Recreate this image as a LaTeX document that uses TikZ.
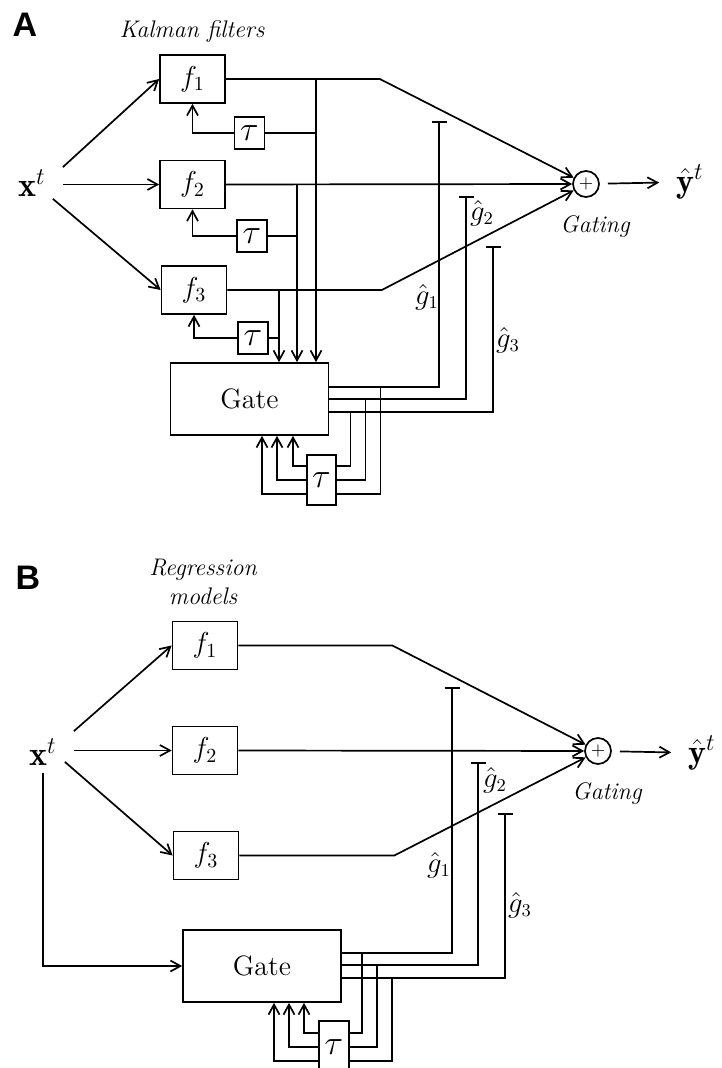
\documentclass[tikz,border=0pt]{standalone}
\usepackage{amsmath,amssymb}
\usepackage{fontspec}
\newfontfamily\panelfont{Liberation Sans}
\usetikzlibrary{calc, positioning, arrows.meta}

\begin{document}
\begin{tikzpicture}[x=0.5pt, y=-0.5pt, line width=0.85pt,
    box/.style={draw, minimum width=32.5pt, minimum height=24pt, inner sep=0pt, font=\fontsize{14}{16}\selectfont},
    delay/.style={draw, minimum width=15pt, minimum height=16pt, inner sep=0pt, font=\fontsize{16}{18}\selectfont},
    gatebox/.style={draw, minimum width=79pt, minimum height=36pt, inner sep=0pt, font=\fontsize{14}{16}\selectfont},
    adder/.style={circle, draw, minimum size=13pt, inner sep=0pt, font=\fontsize{9}{9}\selectfont},
    vec/.style={minimum width=30pt, minimum height=15pt, inner sep=0pt, font=\fontsize{17}{19}\selectfont},
    note/.style={font=\fontsize{12}{14.5}\selectfont\itshape, align=center, inner sep=0pt},
    glab/.style={font=\fontsize{13.5}{15}\selectfont, inner sep=0pt},
    panel/.style={font=\panelfont\bfseries\fontsize{17}{20}\selectfont, inner sep=0pt},
    arr/.style={-{Straight Barb[length=5pt, width=5.5pt]}},
    tee/.style={-{Bar[width=7.5pt]}}]
    \useasboundingbox (0,0) rectangle (721,1068);
    \clip (0,0) rectangle (721,1068);

    % Panel A: Kalman filters, each with its own delay loop
    \node[panel] (labA) at (25,25) {A};
    \node[note] (titA) at (192,32) {Kalman filters};
    \node[vec] (xA) at (32,183) {$\mathbf{x}^t$};
    \foreach \i/\x/\y in {1/192.5/79, 2/192.5/184.5, 3/194/290}
        \node[box] (fA\i) at (\x,\y) {$f_{\i}$};
    \foreach \i/\x/\y in {1/249.5/133, 2/252/236, 3/253/338}
        \node[delay] (dA\i) at (\x,\y) {$\tau$};
    \node[gatebox] (gateA) at (249.5,399) {Gate};
    \node[delay, minimum width=14.5pt, minimum height=25pt] (dgA) at (321.5,480) {$\tau$};
    \node[adder] (sA) at (586,184) {$+$};
    \node[vec] (yA) at (690,182) {$\hat{\mathbf{y}}{}^t$};
    \node[note] (gtA) at (595,227) {Gating};
    \node[glab] (hgA1) at (427,297) {$\hat{g}_1$};
    \node[glab] (hgA2) at (482,213) {$\hat{g}_2$};
    \node[glab] (hgA3) at (508,340) {$\hat{g}_3$};

    \draw[arr] (xA.north east) -- (fA1.west);
    \draw[arr] (xA.east |- fA2.west) -- (fA2.west);
    \draw[arr] ([xshift=-5pt]xA.south east) -- (fA3.west);
    \draw[arr] (fA1.east) -- ++(154,0) -- (sA);
    \draw[arr] (fA2.east) -- (sA);
    \draw[arr] (fA3.east) -- ++(154.5,0) -- (sA);
    \draw[arr, shorten <=4pt] (sA) -- (yA);

    \coordinate (tA1) at (316,79);
    \coordinate (tA2) at (297,184.5);
    \coordinate (tA3) at (279,290);
    \foreach \i in {1,2,3} {
        \draw[arr] (tA\i) -- (tA\i |- gateA.north);
        \draw (dA\i.east) -- (dA\i.east -| tA\i);
        \draw[arr] (dA\i.west) -| (fA\i.south);
    }

    \coordinate (bA1) at (439,121);
    \coordinate (bA2) at (466,196);
    \coordinate (bA3) at (493,246);
    \foreach \i/\dy/\dxr/\dyr/\dxl in {1/-12/51/14/12.5, 2/0/36/0/27.5, 3/13/21/-14/43.5} {
        \coordinate (oA\i) at ($(gateA.east)+(0,\dy)$);
        \draw[tee] (oA\i) -| (bA\i);
        \draw ($(oA\i)+(\dxr,0)$) |- ($(dgA.east)+(0,\dyr)$);
        \draw[arr] ($(dgA.west)+(0,\dyr)$) -| ($(gateA.south)+(\dxl,0)$);
    }

    % Panel B: regression models, gate fed by the input
    \node[panel] (labB) at (28,578) {B};
    \node[note] (titB) at (203,582) {Regression\\models};
    \node[vec, minimum height=20pt] (xB) at (43,752) {$\mathbf{x}^t$};
    \foreach \i/\x/\y in {1/205/645.5, 2/205/750.5, 3/206/855.5}
        \node[box] (fB\i) at (\x,\y) {$f_{\i}$};
    \node[gatebox] (gateB) at (262,966) {Gate};
    \node[delay, minimum width=15pt, minimum height=26pt] (dgB) at (334,1047) {$\tau$};
    \node[adder] (sB) at (598,751) {$+$};
    \node[vec] (yB) at (702,753) {$\hat{\mathbf{y}}{}^t$};
    \node[note] (gtB) at (607,793) {Gating};
    \node[glab] (hgB1) at (439,865) {$\hat{g}_1$};
    \node[glab] (hgB2) at (495,780) {$\hat{g}_2$};
    \node[glab] (hgB3) at (520,905) {$\hat{g}_3$};

    \draw[arr] (xB.north east) -- (fB1.west);
    \draw[arr] (xB.east |- fB2.west) -- (fB2.west);
    \draw[arr] ([xshift=-4.5pt, yshift=5.5pt]xB.south east) -- (fB3.west);
    \draw[arr] (xB.south) |- (gateB.west);
    \draw[arr] (fB1.east) -- ++(154,0) -- (sB);
    \draw[arr] (fB2.east) -- (sB);
    \draw[arr] (fB3.east) -- ++(155,0) -- (sB);
    \draw[arr, shorten <=4pt] (sB) -- (yB);

    \coordinate (bB1) at (452,687);
    \coordinate (bB2) at (478,762);
    \coordinate (bB3) at (505,813);
    \foreach \i/\dy/\dxr/\dyr/\dxl in {1/-13/20/-14/42, 2/-1/35/0/27, 3/12/50/14/12} {
        \coordinate (oB\i) at ($(gateB.east)+(0,\dy)$);
        \draw[tee] (oB\i) -| (bB\i);
        \draw ($(oB\i)+(\dxr,0)$) |- ($(dgB.east)+(0,\dyr)$);
        \draw[arr] ($(dgB.west)+(0,\dyr)$) -| ($(gateB.south)+(\dxl,0)$);
    }
\end{tikzpicture}
\end{document}
